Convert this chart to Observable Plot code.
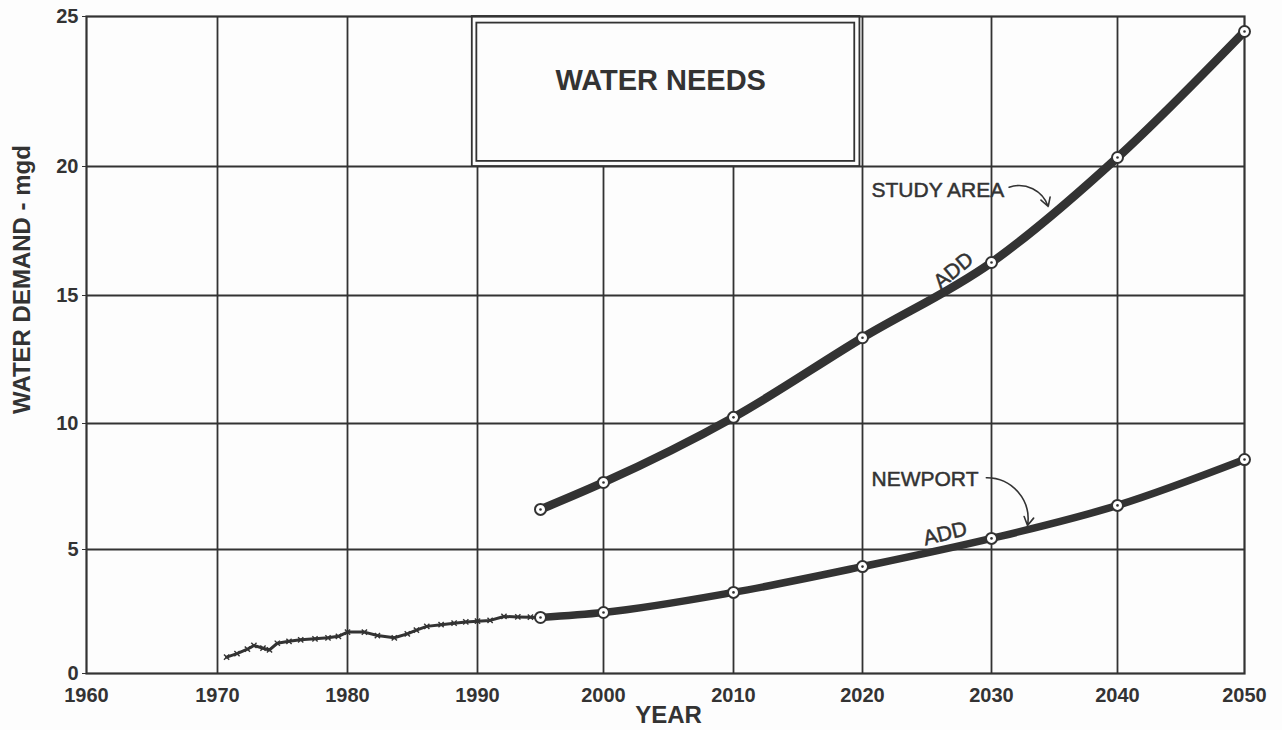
<!DOCTYPE html>
<html>
<head>
<meta charset="utf-8">
<script src="https://cdn.jsdelivr.net/npm/d3@7"></script>
<script src="https://cdn.jsdelivr.net/npm/@observablehq/plot@0.6"></script>
<style>
  html, body { margin: 0; padding: 0; background: #fdfdfd; }
  svg { display: block; }
</style>
</head>
<body>
<div id="chart"></div>
<script>
// ---- data ----
const xTicks = [1960, 1970, 1980, 1990, 2000, 2010, 2020, 2030, 2040, 2050];
const yTicks = [0, 5, 10, 15, 20, 25];

const projYears = [1995, 2000, 2010, 2020, 2030, 2040, 2050];
const studyAreaADD = [6.59, 7.66, 10.24, 13.35, 16.28, 20.3, 24.5];
const newportADD = [2.26, 2.46, 3.27, 4.31, 5.44, 6.75, 8.57];

const histYears = [1970.7, 1971.5, 1972.3, 1972.8, 1973.5, 1974.0, 1974.6, 1975.5, 1976.4, 1977.5, 1978.5, 1979.3, 1980.0, 1981.3, 1982.3, 1983.6, 1984.6, 1985.3, 1986.1, 1987.2, 1988.2, 1989.1, 1990.0, 1991.0, 1992.1, 1993.2, 1994.2, 1995.0];
const histNewport = [0.66, 0.80, 0.98, 1.13, 1.02, 0.95, 1.22, 1.30, 1.36, 1.40, 1.44, 1.50, 1.67, 1.67, 1.53, 1.44, 1.60, 1.75, 1.90, 1.97, 2.03, 2.08, 2.11, 2.14, 2.30, 2.28, 2.27, 2.25];

const titleText = "WATER NEEDS";
const xLabel = "YEAR";
const yLabel = "WATER DEMAND - mgd";

// ---- tables ----
const study = projYears.map((y, i) => ({year: y, value: studyAreaADD[i]}));
const newport = projYears.map((y, i) => ({year: y, value: newportADD[i]}));
const hist = histYears.map((y, i) => ({year: y, value: histNewport[i]}));

const ink = "#333";
const font = "'Liberation Sans', Arial, Helvetica, sans-serif";

// hand-drawn grid: piecewise scales matching the drawn gridlines
const xRange = [86, 217, 347, 477, 603, 733, 862, 991, 1117, 1244];
const yRange = [673, 549, 423, 295, 166, 16];

const chart = Plot.plot({
  width: 1282,
  height: 730,
  marginLeft: 86,
  marginRight: 38,
  marginTop: 16,
  marginBottom: 57,
  style: {background: "#fdfdfd", fontFamily: font, color: ink},
  x: {type: "linear", domain: xTicks, range: xRange},
  y: {type: "linear", domain: yTicks, range: yRange},
  marks: [
    Plot.gridX(xTicks.slice(1, -1), {stroke: ink, strokeOpacity: 1, strokeWidth: 1.8}),
    Plot.gridY(yTicks.slice(1, -1), {stroke: ink, strokeOpacity: 1, strokeWidth: 1.8}),
    // title box (double outline)
    Plot.rect([0], {x1: 1989.6, x2: 2019.8, y1: 20, y2: 25, fill: "#fdfdfd", stroke: ink, strokeWidth: 1.8}),
    Plot.rect([0], {x1: 1989.95, x2: 2019.4, y1: 20.17, y2: 24.78, fill: "none", stroke: ink, strokeWidth: 1.8}),
    Plot.text([titleText], {x: 2004.4, y: 22.85, text: d => d, fontSize: 29, fontWeight: "bold", fill: ink}),
    Plot.frame({stroke: ink, strokeWidth: 2.2}),
    Plot.axisX(xTicks, {tickSize: 0, tickPadding: 14, tickFormat: "d", fontSize: 20, fontWeight: "bold", color: ink, label: null}),
    Plot.axisY(yTicks, {tickSize: 4, tickPadding: 4, fontSize: 20, fontWeight: "bold", color: ink, label: null}),
    // historical Newport
    Plot.line(hist, {x: "year", y: "value", stroke: ink, strokeWidth: 3}),
    Plot.dot(hist, {x: "year", y: "value", symbol: "times", r: 2.5, stroke: ink, strokeWidth: 1.4}),
    // projections
    Plot.line(study, {x: "year", y: "value", stroke: ink, strokeWidth: 8.5, curve: "monotone-x"}),
    Plot.line(newport, {x: "year", y: "value", stroke: ink, strokeWidth: 7.5, curve: "monotone-x"}),
    Plot.dot(study, {x: "year", y: "value", r: 5.5, fill: "white", stroke: ink, strokeWidth: 2}),
    Plot.dot(newport, {x: "year", y: "value", r: 5.5, fill: "white", stroke: ink, strokeWidth: 2}),
    Plot.dot(study, {x: "year", y: "value", r: 1.3, fill: ink}),
    Plot.dot(newport, {x: "year", y: "value", r: 1.3, fill: ink}),
    // annotations
    Plot.text(["STUDY AREA"], {x: 2020.7, y: 19.07, text: d => d, textAnchor: "start", fontSize: 21, fill: ink, stroke: ink, strokeWidth: 0.5}),
    Plot.arrow([0], {x1: 2031.4, y1: 19.2, x2: 2034.5, y2: 18.45, bend: 45, stroke: ink, strokeWidth: 1.6, headLength: 9}),
    Plot.text(["ADD"], {x: 2027.05, y: 15.97, text: d => d, rotate: -40, fontSize: 21, fill: ink, stroke: ink, strokeWidth: 0.5}),
    Plot.text(["NEWPORT"], {x: 2020.7, y: 7.78, text: d => d, textAnchor: "start", fontSize: 21, fill: ink, stroke: ink, strokeWidth: 0.5}),
    Plot.arrow([0], {x1: 2029.6, y1: 7.85, x2: 2032.86, y2: 5.95, bend: 50, stroke: ink, strokeWidth: 1.6, headLength: 9}),
    Plot.text(["ADD"], {x: 2026.4, y: 5.63, text: d => d, rotate: -14, fontSize: 21, fill: ink, stroke: ink, strokeWidth: 0.5}),
    // axis titles
    Plot.text([xLabel], {x: 2005, frameAnchor: "bottom", lineAnchor: "bottom", dy: 49, text: d => d, fontSize: 24, fontWeight: "bold", fill: ink}),
    Plot.text([yLabel], {y: 15.62, frameAnchor: "left", textAnchor: "middle", lineAnchor: "middle", dx: -64, rotate: -90, text: d => d, fontSize: 24, fontWeight: "bold", fill: ink})
  ]
});
document.getElementById("chart").appendChild(chart);
</script>
</body>
</html>
